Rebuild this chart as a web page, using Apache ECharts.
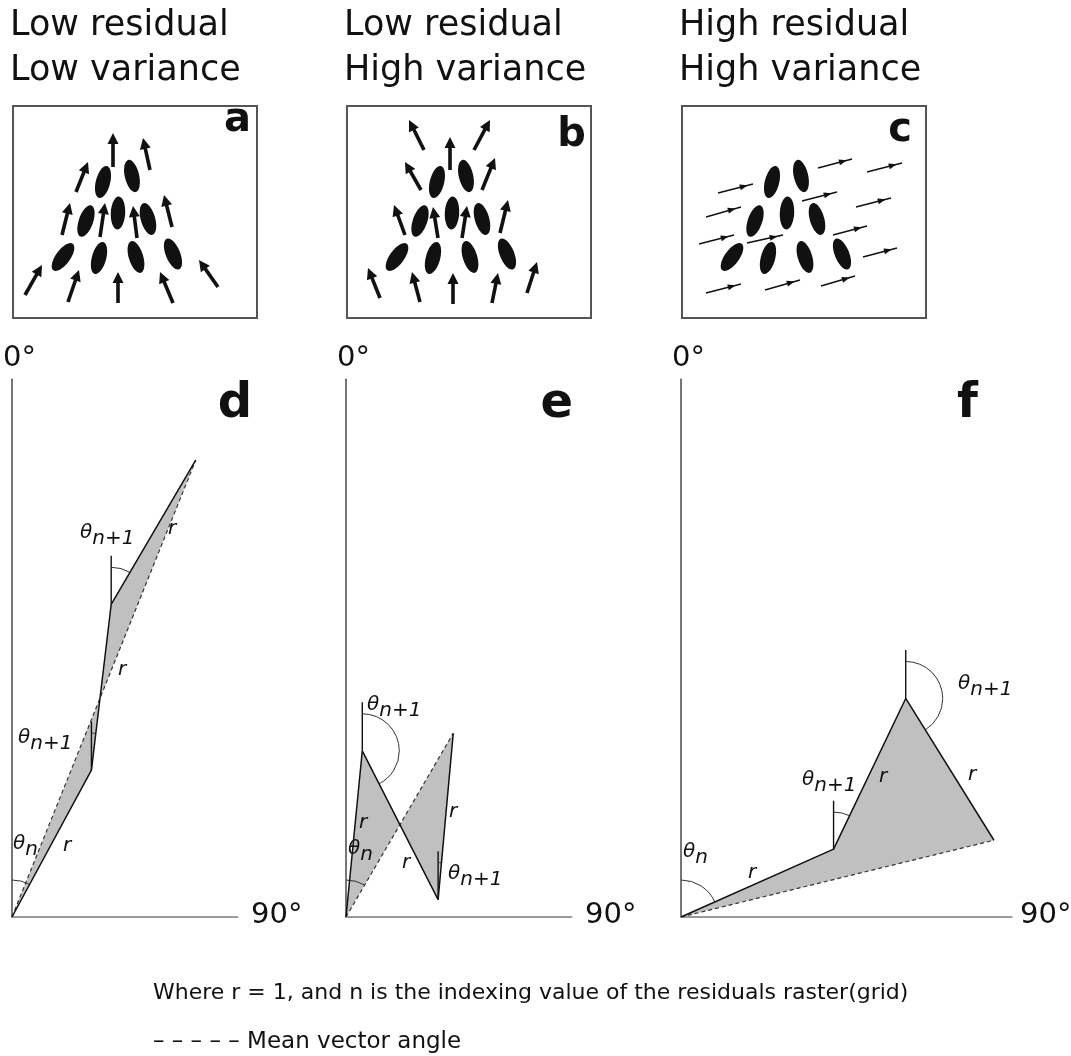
<!DOCTYPE html>
<html><head><meta charset="utf-8">
<script src="https://cdn.jsdelivr.net/npm/echarts@6/dist/echarts.min.js"></script>
<style>html,body{margin:0;padding:0;background:#fff}#c{width:1071px;height:1056px}</style>
</head><body><div id="c"></div>
<script>
// ================= DATA =================
const panelTitles = [['Low residual', 'Low variance'], ['Low residual', 'High variance'], ['High residual', 'High variance']];
const topLetters = ['a', 'b', 'c'];
const bottomLetters = ['d', 'e', 'f'];
const axisStartLabel = '0°';
const axisEndLabel = '90°';
const footNote = 'Where r = 1, and n is the indexing value of the residuals raster(grid)';
const legendText = '– – – – – Mean vector angle';

// ellipses in each sketch box: [x, y, tilt in degrees clockwise from vertical]
const ellipses = [[90, 76, 14], [119, 70, -13], [73, 115, 19], [105, 107, 3], [135, 113, -16],
  [50, 151, 36], [86, 152, 15], [123, 151, -17], [160, 148, -22]];

// residual arrows [tailX, tailY, headX, headY]
const arrowsA = [[100, 61, 100, 27], [137, 64, 130, 32], [63, 86, 75, 56], [49, 129, 57, 97], [87, 131, 92, 97],
  [124, 132, 120, 100], [159, 121, 151, 89], [12, 189, 29, 159], [55, 196, 66, 164], [105, 197, 105, 166],
  [160, 197, 147, 166], [205, 181, 186, 154]];
const arrowsB = [[77, 44, 62, 14], [103, 64, 103, 31], [127, 44, 143, 14], [74, 84, 58, 56], [135, 84, 148, 52],
  [58, 129, 47, 99], [91, 132, 86, 101], [115, 132, 120, 100], [153, 127, 161, 94], [33, 192, 21, 162],
  [73, 196, 65, 166], [106, 198, 106, 167], [145, 197, 151, 167], [180, 187, 190, 156]];
const arrowsC = [[36, 87, 71, 78], [136, 62, 170, 53], [185, 66, 220, 57], [24, 111, 59, 101], [120, 95, 155, 86],
  [174, 101, 209, 92], [17, 138, 52, 129], [65, 137, 101, 129], [151, 129, 185, 120], [181, 151, 215, 142],
  [24, 187, 59, 178], [83, 184, 118, 174], [139, 180, 173, 170]];

// vector headings (degrees clockwise from 0°), each vector of length r = 1
const headingsD = [28.4, 6.8, 30.4];
const headingsE = [5.6, 153, 5.2];
const headingsF = [66, 25.6, 148.1];
// angle marked at the origin of each panel
const originArcs = [28.4, 30, 66];

// ================= LAYOUT =================
const FONT = 'DejaVu Sans';
const S = 167;                 // px per unit r
const boxLefts = [13, 347, 682];
const boxTop = 106, boxW = 244, boxH = 212;
const plotLefts = [12, 346, 681];
const plotXMax = [1.35, 1.35, 1.98];
const plotYMax = 3.22;
const plotBottom = 1056 - 917;
const arcR = 37, refLen = 0.29;

const headings = [headingsD, headingsE, headingsF];
function vertices(h) {
  let x = 0, y = 0; const pts = [[0, 0]];
  h.forEach(a => { x += Math.sin(a * Math.PI / 180); y += Math.cos(a * Math.PI / 180); pts.push([x, y]); });
  return pts;
}

const grids = [], xAxes = [], yAxes = [], series = [];
const hidden = { show: false };

// top sketch boxes
const arrowSets = [arrowsA, arrowsB, arrowsC];
for (let i = 0; i < 3; i++) {
  grids.push({ left: boxLefts[i], top: boxTop, width: boxW, height: boxH, show: true,
    borderColor: '#555', borderWidth: 2, backgroundColor: 'transparent' });
  xAxes.push({ type: 'value', gridIndex: i, min: 0, max: boxW, axisLine: hidden, axisTick: hidden, axisLabel: hidden, splitLine: hidden });
  yAxes.push({ type: 'value', gridIndex: i, min: 0, max: boxH, inverse: true, axisLine: hidden, axisTick: hidden, axisLabel: hidden, splitLine: hidden });
  series.push({
    type: 'custom', xAxisIndex: i, yAxisIndex: i, data: ellipses, silent: true,
    renderItem: (p, api) => {
      const c = api.coord([api.value(0), api.value(1)]);
      return { type: 'ellipse', x: c[0], y: c[1], rotation: -api.value(2) * Math.PI / 180,
        shape: { cx: 0, cy: 0, rx: 7.2, ry: 16.5 }, style: { fill: '#111' } };
    }
  });
  const thin = (i === 2);
  series.push({
    type: 'custom', xAxisIndex: i, yAxisIndex: i, data: arrowSets[i], silent: true,
    encode: { x: [0, 2], y: [1, 3] },
    renderItem: (p, api) => {
      const a = api.coord([api.value(0), api.value(1)]);
      const b = api.coord([api.value(2), api.value(3)]);
      const dx = b[0] - a[0], dy = b[1] - a[1], L = Math.hypot(dx, dy);
      const ux = dx / L, uy = dy / L, px = -uy, py = ux;
      if (!thin) {
        const hl = 11, hw = 5.5;
        const bx = b[0] - ux * hl, by = b[1] - uy * hl;
        return { type: 'group', children: [
          { type: 'line', shape: { x1: a[0], y1: a[1], x2: bx + ux * 2, y2: by + uy * 2 }, style: { stroke: '#111', lineWidth: 3.6 } },
          { type: 'polygon', shape: { points: [[b[0], b[1]], [bx + px * hw, by + py * hw], [bx - px * hw, by - py * hw]] }, style: { fill: '#111' } }
        ] };
      } else {
        const hl = 8, hw = 3;
        const tx = a[0] + dx * 0.85, ty = a[1] + dy * 0.85;
        const bx = tx - ux * hl, by = ty - uy * hl;
        return { type: 'group', children: [
          { type: 'line', shape: { x1: a[0], y1: a[1], x2: b[0], y2: b[1] }, style: { stroke: '#111', lineWidth: 1.5 } },
          { type: 'polygon', shape: { points: [[tx, ty], [bx + px * hw, by + py * hw], [bx - px * hw, by - py * hw]] }, style: { fill: '#111' } }
        ] };
      }
    }
  });
}

// bottom vector diagrams
for (let k = 0; k < 3; k++) {
  const gi = 3 + k;
  const verts = vertices(headings[k]);
  const last = verts[verts.length - 1];
  grids.push({ left: plotLefts[k], bottom: plotBottom, width: plotXMax[k] * S, height: plotYMax * S, show: false });
  xAxes.push({ type: 'value', gridIndex: gi, min: 0, max: plotXMax[k],
    axisLine: { show: true, onZero: false, lineStyle: { color: '#9a9a9a', width: 2 } },
    axisTick: hidden, axisLabel: hidden, splitLine: hidden });
  yAxes.push({ type: 'value', gridIndex: gi, min: 0, max: plotYMax,
    axisLine: { show: true, onZero: false, lineStyle: { color: '#555', width: 1.6 } },
    axisTick: hidden, axisLabel: hidden, splitLine: hidden });
  // grey area between path and mean vector
  series.push({
    type: 'custom', xAxisIndex: gi, yAxisIndex: gi, data: [[0, 0]], silent: true, z: 1,
    renderItem: (p, api) => ({ type: 'polygon', shape: { points: verts.map(v => api.coord(v)) }, style: { fill: '#c0c0c0' } })
  });
  // mean vector (dashed)
  series.push({ type: 'line', xAxisIndex: gi, yAxisIndex: gi, data: [verts[0], last], symbol: 'none', z: 3, silent: true,
    lineStyle: { color: '#333', width: 1.2, type: [4, 3] } });
  // vector path
  series.push({ type: 'line', xAxisIndex: gi, yAxisIndex: gi, data: verts, symbol: 'none', z: 4, silent: true,
    lineStyle: { color: '#111', width: 1.5 } });
  // reference verticals at intermediate vertices
  series.push({
    type: 'custom', xAxisIndex: gi, yAxisIndex: gi, data: verts.slice(1, verts.length - 1), silent: true, z: 4,
    renderItem: (p, api) => {
      const a = api.coord([api.value(0), api.value(1)]);
      const b = api.coord([api.value(0), api.value(1) + refLen]);
      return { type: 'line', shape: { x1: a[0], y1: a[1], x2: b[0], y2: b[1] }, style: { stroke: '#111', lineWidth: 1.4 } };
    }
  });
  // angle arcs
  const arcs = [[0, 0, originArcs[k]]];
  for (let j = 1; j < verts.length - 1; j++) arcs.push([verts[j][0], verts[j][1], headings[k][j]]);
  series.push({
    type: 'custom', xAxisIndex: gi, yAxisIndex: gi, data: arcs, silent: true, z: 4,
    renderItem: (p, api) => {
      const c = api.coord([api.value(0), api.value(1)]);
      const h = api.value(2) * Math.PI / 180;
      return { type: 'arc', shape: { cx: c[0], cy: c[1], r: arcR, startAngle: -Math.PI / 2, endAngle: -Math.PI / 2 + h, clockwise: true },
        style: { stroke: '#333', fill: null, lineWidth: 1 } };
    }
  });
}

// ================= TEXT =================
const g = [];
function txt(x, y, text, o) {
  g.push({ type: 'text', x: x, y: y, silent: true, z: 100,
    style: Object.assign({ text: text, fontFamily: FONT, fontSize: 20, fill: '#111', align: 'left', verticalAlign: 'middle' }, o || {}) });
}
const titleX = [10, 344, 679];
for (let i = 0; i < 3; i++) {
  txt(titleX[i], 26, panelTitles[i][0], { fontSize: 35 });
  txt(titleX[i], 71, panelTitles[i][1], { fontSize: 35 });
}
const topLetterPos = [[251, 121], [586, 136], [912, 131]];
topLetters.forEach((l, i) => txt(topLetterPos[i][0], topLetterPos[i][1], l, { fontSize: 40, fontWeight: 'bold', align: 'right' }));
const botLetterPos = [[252, 405], [573, 405], [978, 405]];
bottomLetters.forEach((l, i) => txt(botLetterPos[i][0], botLetterPos[i][1], l, { fontSize: 48, fontWeight: 'bold', align: 'right' }));
[3, 337, 672].forEach(x => txt(x, 358, axisStartLabel, { fontSize: 29 }));
[251, 585, 1020].forEach(x => txt(x, 915, axisEndLabel, { fontSize: 29 }));

const rich = {
  t: { fontFamily: FONT, fontSize: 20, fontStyle: 'italic', fill: '#111', padding: [0, 0, 6, 0] },
  s: { fontFamily: FONT, fontSize: 20, fontStyle: 'italic', fill: '#111', padding: [6, 0, 0, 0] }
};
function theta(x, y, sub) { txt(x, y, '{t|θ}{s|' + sub + '}', { rich: rich }); }
function rlab(x, y) { txt(x, y, 'r', { fontStyle: 'italic' }); }
// panel d
theta(80, 536, 'n+1'); rlab(168, 529); rlab(118, 670); theta(18, 741, 'n+1'); theta(13, 847, 'n'); rlab(63, 846);
// panel e
theta(367, 708, 'n+1'); rlab(359, 823); theta(348, 852, 'n'); rlab(402, 863); rlab(449, 812); theta(448, 877, 'n+1');
// panel f
theta(958, 687, 'n+1'); rlab(879, 777); rlab(968, 775); theta(802, 783, 'n+1'); theta(683, 855, 'n'); rlab(748, 873);

txt(153, 993, footNote, { fontSize: 22 });
txt(153, 1042, legendText, { fontSize: 23 });

const chart = echarts.init(document.getElementById('c'), null, { renderer: 'canvas' });
chart.setOption({
  animation: false, backgroundColor: '#fff',
  grid: grids, xAxis: xAxes, yAxis: yAxes, series: series, graphic: g
});
</script></body></html>
